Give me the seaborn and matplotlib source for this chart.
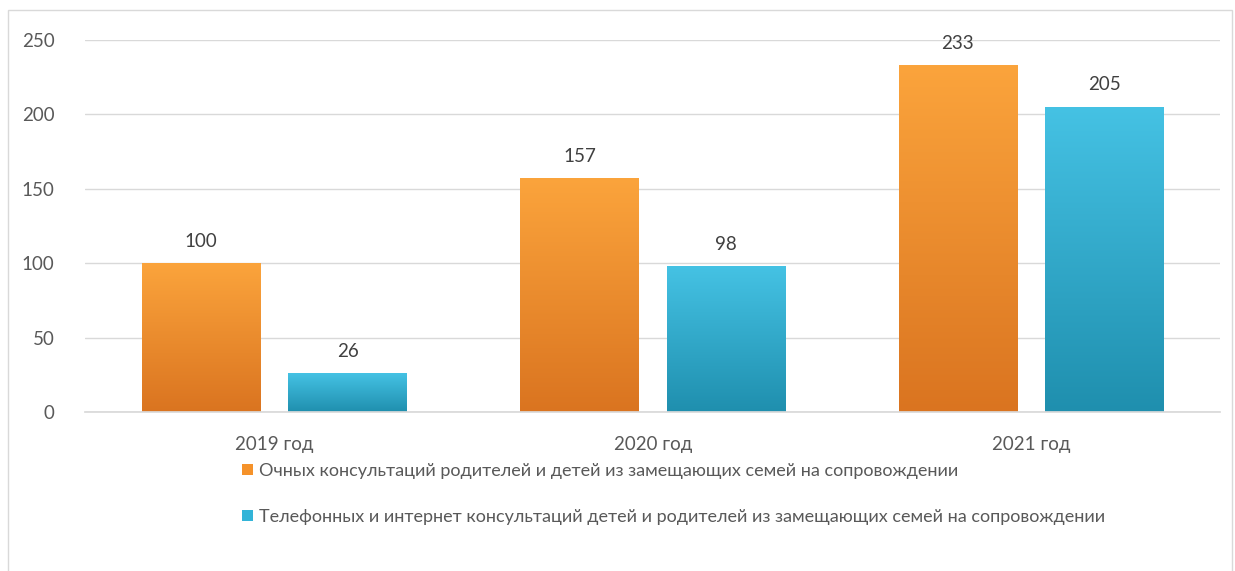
import numpy as np
import pandas as pd
import matplotlib
matplotlib.use("Agg")
import matplotlib.pyplot as plt
import matplotlib.patches as mpatches
from matplotlib.colors import LinearSegmentedColormap
import seaborn as sns

# ── Data ─────────────────────────────────────────────────────
years = ["2019 год", "2020 год", "2021 год"]
series_names = [
    "Очных консультаций родителей и детей из замещающих семей на сопровождении",
    "Телефонных и интернет консультаций детей и родителей из замещающих семей на сопровождении",
]
in_person = [100, 157, 233]
remote = [26, 98, 205]
y_ticks = [0, 50, 100, 150, 200, 250]

colors = ["#F5922A", "#32B4D8"]
grads = [("#FBA43C", "#DA7420"), ("#45C2E4", "#1F8FAE")]
TEXT = "#595959"

df = pd.DataFrame({
    "year": years * 2,
    "value": in_person + remote,
    "series": [series_names[0]] * 3 + [series_names[1]] * 3,
})

sns.set_theme(style="white")
plt.rcParams["font.family"] = ["Lato", "DejaVu Sans"]

fig = plt.figure(figsize=(12.35, 5.71), dpi=100)
ax = fig.add_axes([0.069, 0.2785, 0.919, 0.652])

sns.barplot(data=df, x="year", y="value", hue="series", palette=colors,
            width=0.773, gap=0.19, ax=ax, legend=False, saturation=1,
            edgecolor="none")

# vertical gradient on each bar
bars = [p for p in ax.patches if isinstance(p, mpatches.Rectangle) and p.get_height() > 0]
for p in bars:
    fc = matplotlib.colors.to_hex(p.get_facecolor())
    top, bot = grads[0] if fc.lower() == colors[0].lower() else grads[1]
    cmap = LinearSegmentedColormap.from_list("g", [bot, top])
    x0, y0 = p.get_x(), p.get_y()
    w, h = p.get_width(), p.get_height()
    grad = np.linspace(0, 1, 256).reshape(-1, 1)
    im = ax.imshow(grad, cmap=cmap, aspect="auto", origin="lower",
                   extent=[x0, x0 + w, y0, y0 + h], zorder=p.get_zorder())
    im.set_clip_path(p)
    ax.text(x0 + w / 2, y0 + h + 9, f"{int(round(h))}", ha="center", va="bottom",
            fontsize=13.5, color="#404040")

ax.set_xlim(-0.5, 2.5)
ax.set_ylim(0, 250)
ax.set_yticks(y_ticks)
ax.yaxis.grid(True, color="#D9D9D9", lw=1)
ax.set_axisbelow(True)
for s in ["top", "right", "left"]:
    ax.spines[s].set_visible(False)
ax.spines["bottom"].set_color("#D9D9D9")
ax.tick_params(axis="both", length=0, labelsize=13.5, labelcolor=TEXT)
ax.tick_params(axis="y", pad=22)
ax.tick_params(axis="x", pad=17)
ax.set_xlabel("")
ax.set_ylabel("")

# legend below the plot
handles = [mpatches.Patch(facecolor=c, edgecolor="none") for c in colors]
fig.legend(handles, series_names, loc="upper left", bbox_to_anchor=(0.19, 0.202),
           ncol=1, frameon=False, fontsize=13, labelcolor=TEXT,
           handlelength=0.6, handleheight=0.6, handletextpad=0.35, labelspacing=1.65,
           borderaxespad=0)

# outer chart frame
fig.patches.append(mpatches.Rectangle((8 / 1235, -0.02), 1 - 11 / 1235, 1 - 10 / 571 + 0.02,
                                      transform=fig.transFigure, fill=False,
                                      edgecolor="#D9D9D9", lw=1))

fig.savefig("out.png", dpi=100)
